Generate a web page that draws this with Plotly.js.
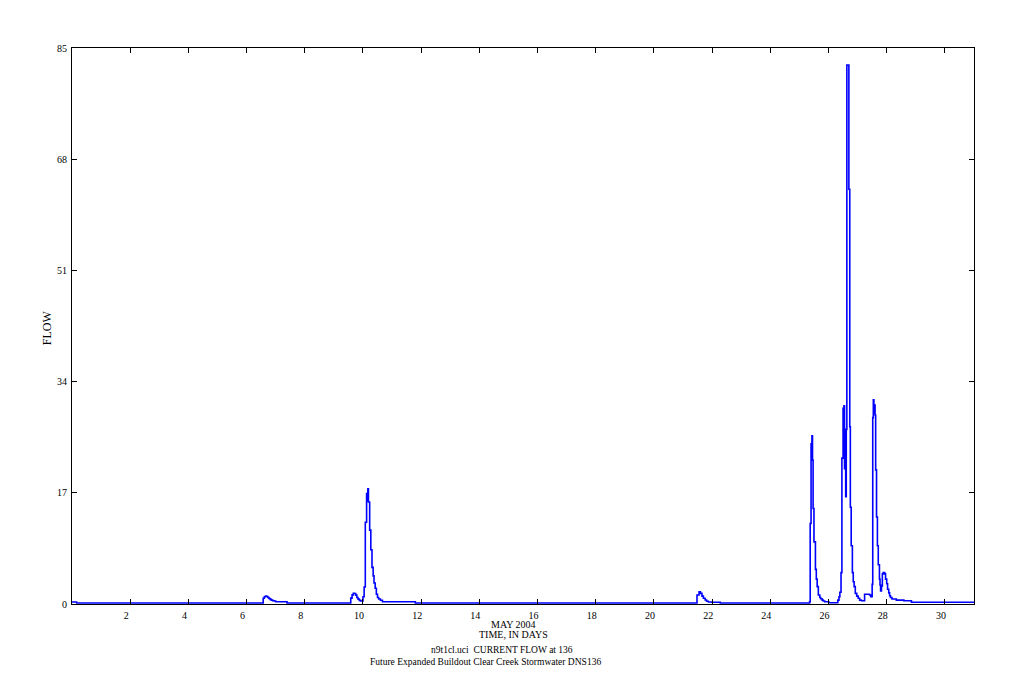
<!DOCTYPE html>
<html>
<head>
<meta charset="utf-8">
<script src="https://cdn.plot.ly/plotly-3.0.1.min.js"></script>
<style>html,body{margin:0;padding:0;background:#fff;}#chart{width:1022px;height:700px;}</style>
</head>
<body>
<div id="chart"></div>
<script>
// Time in days (May 2004) and flow values
var days = [0, 0.16,
  6.57, 6.61, 6.65, 6.69, 6.73, 6.77, 6.81, 6.85, 6.90, 6.95, 7.00, 7.39,
  9.58, 9.625, 9.667, 9.708, 9.75, 9.79, 9.83, 9.875, 9.92, 10.0, 10.04, 10.08, 10.125, 10.146, 10.167, 10.188,
  10.23, 10.27, 10.31, 10.35, 10.38, 10.42, 10.46, 10.50, 10.54, 10.60, 10.67, 11.80,
  21.48, 21.55, 21.60, 21.65, 21.70, 21.76, 21.81, 21.87, 21.99, 22.28,
  25.35, 25.37, 25.40, 25.42, 25.43, 25.45, 25.47, 25.50, 25.55, 25.58, 25.61, 25.65, 25.70, 25.73, 25.78, 25.82, 25.87, 26.01,
  26.32, 26.36, 26.39, 26.43, 26.46, 26.50, 26.52, 26.53, 26.55, 26.58, 26.59, 26.61, 26.63, 26.70, 26.73, 26.75,
  26.78, 26.82, 26.85, 26.88, 26.92, 26.97, 27.02, 27.07, 27.13, 27.24, 27.41, 27.45, 27.50,
  27.52, 27.54, 27.56, 27.57, 27.60, 27.62, 27.65, 27.68, 27.71, 27.75, 27.77, 27.79, 27.82, 27.85, 27.88, 27.93,
  27.96, 28.00, 28.03, 28.07, 28.10, 28.13, 28.18, 28.33, 28.59, 28.85, 31.0];
var flow = [0.3, 0.15,
  0.87, 1.1, 1.2, 1.15, 1.0, 0.85, 0.7, 0.6, 0.5, 0.45, 0.35, 0.15,
  0.9, 1.4, 1.63, 1.6, 1.35, 1.0, 0.75, 0.55, 0.45, 1.1, 2.6, 12.5, 16.9, 15.8, 17.6, 15.6,
  11.3, 8.3, 5.6, 4.3, 3.2, 2.4, 1.5, 1.0, 0.76, 0.57, 0.35, 0.15,
  1.38, 1.88, 1.63, 1.2, 0.87, 0.61, 0.41, 0.3, 0.26, 0.15,
  0.35, 12.3, 24.5, 22.0, 25.7, 22.0, 14.6, 9.5, 5.3, 3.8, 2.65, 1.38, 1.0, 0.8, 0.6, 0.45, 0.35, 0.2,
  0.6, 1.1, 1.8, 4.8, 22.3, 29.9, 28.2, 30.3, 20.7, 26.7, 16.4, 26.7, 82.4, 63.4, 27.1, 14.8,
  8.9, 4.8, 3.4, 2.65, 1.63, 1.2, 0.87, 0.6, 0.5, 1.48, 1.38, 1.1, 3.0,
  28.5, 31.2, 29.2, 30.4, 28.9, 20.5, 13.3, 8.9, 6.0, 3.8, 2.9, 2.0, 2.75, 4.6, 4.8, 4.6,
  3.8, 3.1, 2.25, 1.7, 1.27, 1.0, 0.76, 0.6, 0.5, 0.26, 0.26];

var xTicks = [2, 4, 6, 8, 10, 12, 14, 16, 18, 20, 22, 24, 26, 28, 30];
var yTicks = [0, 17, 34, 51, 68, 85];

var xTitleLines = ["MAY 2004", "TIME, IN DAYS"];
var footerLines = ["n9t1cl.uci  CURRENT FLOW at 136", "Future Expanded Buildout Clear Creek Stormwater DNS136"];
var yTitle = "FLOW";

var fontFam = "Liberation Serif, Times New Roman, serif";

var trace = {
  x: days, y: flow, type: "scatter", mode: "lines",
  line: {color: "#0000ff", width: 1.6, shape: "hv"},
  hoverinfo: "skip"
};

var axisCommon = {
  showgrid: false, zeroline: false, showline: true, linecolor: "#000", linewidth: 1,
  mirror: "ticks", ticks: "inside", ticklen: 5, tickwidth: 1, tickcolor: "#000",
  tickfont: {family: fontFam, size: 10, color: "#000"}
};

function note(text, x, yshift, size) {
  return {text: text, xref: "paper", yref: "paper", x: x, y: 0, xanchor: "center", yanchor: "middle",
    yshift: yshift, showarrow: false, font: {family: fontFam, size: size, color: "#000"}};
}

var layout = {
  width: 1022, height: 700,
  margin: {l: 72, r: 48, t: 48, b: 96, pad: 0},
  paper_bgcolor: "#fff", plot_bgcolor: "#fff",
  showlegend: false,
  xaxis: Object.assign({}, axisCommon, {range: [0, 31], tickmode: "array", tickvals: xTicks,
    ticktext: xTicks.map(String), ticklabelshift: -4, ticklabelstandoff: 2}),
  yaxis: Object.assign({}, axisCommon, {range: [0, 85], tickmode: "array", tickvals: yTicks,
    ticktext: yTicks.map(String), ticklabelstandoff: 2}),
  annotations: [
    note(xTitleLines[0], 0.490, -20, 10),
    note(xTitleLines[1], 0.490, -30, 10),
    note(footerLines[0], 0.477, -46, 9.5),
    note(footerLines[1], 0.458, -58, 9.5),
    {text: yTitle, xref: "paper", yref: "paper", x: 0, y: 0.496, xanchor: "center", yanchor: "middle", xshift: -25, textangle: -90, showarrow: false, font: {family: fontFam, size: 12, color: "#000"}}
  ]
};

Plotly.newPlot("chart", [trace], layout, {staticPlot: true, displayModeBar: false});
</script>
</body>
</html>
